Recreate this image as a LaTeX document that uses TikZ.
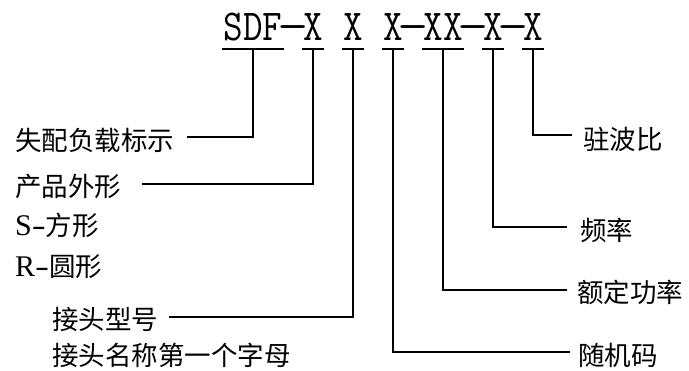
\documentclass[tikz,border=0pt]{standalone}
\usepackage{fontspec}
\usetikzlibrary{calc}
\newfontfamily\cjkfont{Noto Sans CJK SC}
\newfontfamily\latinserif{Liberation Serif}
\newcommand\codetxt[1]{\scalebox{1}[1.16]{#1}}
\newcommand\longdash{\scalebox{1.6}[1]{-}}
\newcommand\latinpart[1]{{\fontsize{30}{30}\selectfont\latinserif #1}}
\begin{document}
\begin{tikzpicture}[x=1pt,y=-1pt,
  code/.style={inner sep=0pt, anchor=base, font=\fontsize{38}{40}\selectfont\ttfamily},
  lab/.style={inner sep=0pt, anchor=west, font=\fontsize{26.5}{30}\selectfont\cjkfont},
  wire/.style={line width=2.4pt, line cap=butt, line join=miter}]
\useasboundingbox (0,0) rectangle (689,370);
\coordinate (bar) at (0,49);
% code string
\node[code] (sdf) at (253,40) {\codetxt{SDF}};
\node[code] (d1)  at (293,40) {\codetxt{\longdash}};
\node[code] (x1)  at (313,40) {\codetxt{X}};
\node[code] (x2)  at (353,40) {\codetxt{X}};
\node[code] (x3)  at (393,40) {\codetxt{X}};
\node[code] (d2)  at (413,40) {\codetxt{\longdash}};
\node[code] (xx)  at (443,40) {\codetxt{XX}};
\node[code] (d3)  at (473,40) {\codetxt{\longdash}};
\node[code] (x4)  at (493,40) {\codetxt{X}};
\node[code] (d4)  at (513,40) {\codetxt{\longdash}};
\node[code] (x5)  at (533,40) {\codetxt{X}};
% labels left
\node[lab] (l1) at (15,140) {失配负载标示};
\node[lab] (l2) at (15,187) {产品外形};
\node[lab] (l2s) at (15,225) {\latinpart{S\scalebox{1.4}[1]{-}}方形};
\node[lab] (l2r) at (15,267) {\latinpart{R\scalebox{1.4}[1]{-}}圆形};
\node[lab] (l3) at (52,319) {接头型号};
\node[lab] (l3b) at (52,355) {接头名称第一个字母};
% labels right
\node[lab] (r1) at (583,139) {驻波比};
\node[lab] (r2) at (580,230) {频率};
\node[lab] (r3) at (577,292) {额定功率};
\node[lab] (r4) at (578,355) {随机码};
% underline bars
\foreach \n in {sdf,x1,x2,x3,xx,x4,x5}
  \draw[wire] ($(\n.west |- bar)+(-1.5,0)$) -- ($(\n.east |- bar)+(1.5,0)$);
% connectors
\draw[wire] (sdf.south |- bar) |- ($(l1.east)+(13,-3)$);
\draw[wire] (x1.south |- bar) |- ($(l2.east)+(21,-3)$);
\draw[wire] (x2.south |- bar) |- ($(l3.east)+(11,-2)$);
\draw[wire] (x5.south |- bar) |- ($(r1.west)+(-11,-4)$);
\draw[wire] (x4.south |- bar) |- ($(r2.west)+(-13,-3)$);
\draw[wire] (xx.south |- bar) |- ($(r3.west)+(-10,-2)$);
\draw[wire] (x3.south |- bar) |- ($(r4.west)+(-8,-3)$);
\end{tikzpicture}
\end{document}
